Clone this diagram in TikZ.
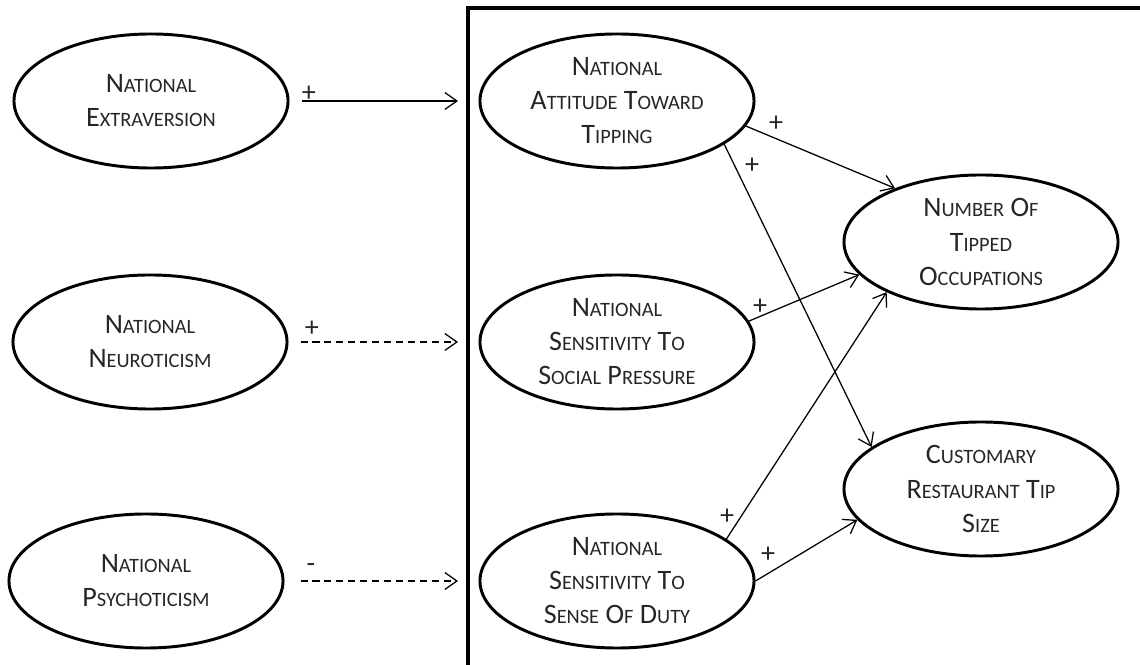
\documentclass[tikz,border=0pt]{standalone}
\usepackage{fontspec}
\setmainfont{Carlito}
\usetikzlibrary{shapes.geometric,arrows.meta}
\newcommand\SCx[1]{{\fontsize{14.5}{24.2}\selectfont #1}}
\begin{document}
\begin{tikzpicture}[x=0.025cm,y=0.025cm,
 oval/.style={ellipse,draw,line width=2.1pt,minimum width=6.85cm,minimum height=3.35cm,inner sep=0pt},
 txt/.style={align=center,font=\fontsize{20}{24.2}\selectfont,text=black!85,inner sep=0pt},
 conn/.style={-{Straight Barb[length=3mm,width=4.2mm]},line width=0.9pt},
 dconn/.style={conn,dash pattern=on 5pt off 3.5pt},
 sign/.style={font=\fontsize{20}{20}\selectfont,inner sep=0pt,text=black!85}
]
\useasboundingbox (0,0) rectangle (1140,665);
\begin{scope}
\clip (0,0) rectangle (1140,665);
\draw[line width=2.2pt] (468,-10) -- (468,657) -- (1150,657);
\end{scope}

\node[oval] (ext) at (151,564) {};
\node[oval] (neu) at (150,323) {};
\node[oval] (psy) at (146,84) {};
\node[oval] (att) at (617,564) {};
\node[oval] (soc) at (617,323) {};
\node[oval] (duty) at (617,84) {};
\node[oval] (num) at (981,423) {};
\node[oval] (cust) at (981,176) {};

\node[txt] (extT) at (ext) {N\SCx{ATIONAL}\\E\SCx{XTRAVERSION}};
\node[txt] (neuT) at (neu) {N\SCx{ATIONAL}\\N\SCx{EUROTICISM}};
\node[txt] (psyT) at (psy) {N\SCx{ATIONAL}\\P\SCx{SYCHOTICISM}};
\node[txt] (attT) at (att) {N\SCx{ATIONAL}\\A\SCx{TTITUDE} T\SCx{OWARD}\\T\SCx{IPPING}};
\node[txt] (socT) at (soc) {N\SCx{ATIONAL}\\S\SCx{ENSITIVITY} T\SCx{O}\\S\SCx{OCIAL} P\SCx{RESSURE}};
\node[txt] (dutyT) at (duty) {N\SCx{ATIONAL}\\S\SCx{ENSITIVITY} T\SCx{O}\\S\SCx{ENSE} O\SCx{F} D\SCx{UTY}};
\node[txt] (numT) at (num) {N\SCx{UMBER} O\SCx{F}\\T\SCx{IPPED}\\O\SCx{CCUPATIONS}};
\node[txt] (custT) at (cust) {C\SCx{USTOMARY}\\R\SCx{ESTAURANT} T\SCx{IP}\\S\SCx{IZE}};

\coordinate (tgt) at (458,0);
\draw[conn,shorten <=0.3cm] (ext.east) -- (ext.east -| tgt);
\draw[dconn,shorten <=0.3cm] (neu.east) -- (neu.east -| tgt);
\draw[dconn,shorten <=0.4cm] (psy.east) -- (psy.east -| tgt);

\draw[conn] (att.-11.6) -- (num.148);
\draw[conn] (att.-22.7) -- (cust.159.7);
\draw[conn] (soc.9.2) -- (num.195.3);
\draw[conn] (duty.21.8) -- (num.208.2);
\draw[conn] (duty.0.8) -- (cust.194.6);

\node[sign] (s1) at (309,571) {+};
\node[sign] (s2) at (312,336) {+};
\node[sign] (s3) at (311,97) {-};
\node[sign] (s4) at (776,541) {+};
\node[sign] (s5) at (752,499) {+};
\node[sign] (s6) at (760,358) {+};
\node[sign] (s7) at (727,148) {+};
\node[sign] (s8) at (768,110) {+};
\end{tikzpicture}
\end{document}
